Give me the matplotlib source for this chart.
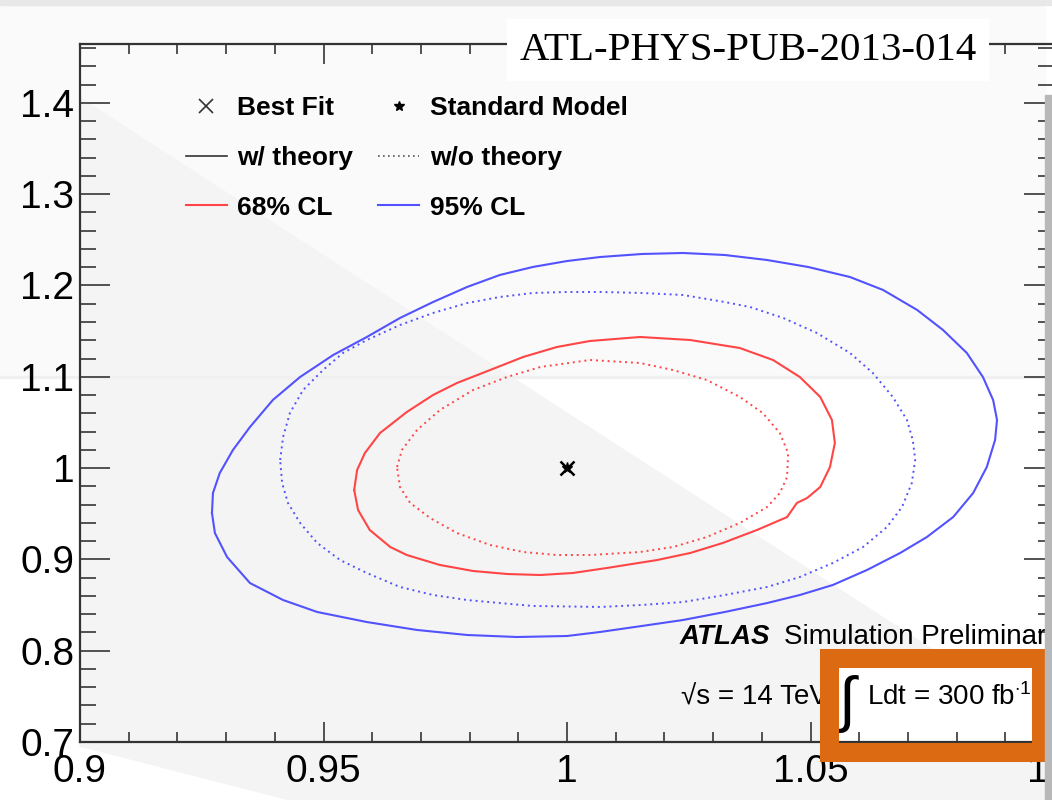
"""Two-parameter likelihood contours (ATLAS HL-LHC projection, 300 fb^-1)."""

import matplotlib
matplotlib.use("Agg")
import matplotlib.pyplot as plt
from matplotlib.lines import Line2D
from matplotlib.patches import Polygon, Rectangle
from matplotlib.ticker import FixedLocator, MultipleLocator
import numpy as np

plt.rcParams.update({
    "font.family": ["Liberation Sans", "DejaVu Sans"],
    "mathtext.fontset": "custom",
    "mathtext.rm": "Liberation Sans",
    "mathtext.it": "Liberation Sans:italic",
    "mathtext.bf": "Liberation Sans:bold",
})

W, H = 1052, 800

# --- contour data (x, y), each a closed loop ---
# 95% CL, with theory uncertainties
c95_theo_x = [0.9271, 0.9273, 0.9287, 0.9314, 0.9349, 0.9396, 0.9452, 0.9520,
              0.9589, 0.9657, 0.9725, 0.9795, 0.9862, 0.9930, 1.0000, 1.0068,
              1.0154, 1.0238, 1.0324, 1.0411, 1.0495, 1.0581, 1.0649, 1.0719,
              1.0772, 1.0821, 1.0854, 1.0875, 1.0883, 1.0879, 1.0862, 1.0834,
              1.0793, 1.0739, 1.0684, 1.0616, 1.0546, 1.0478, 1.0411, 1.0324,
              1.0238, 1.0154, 1.0068, 1.0000, 0.9897, 0.9795, 0.9692, 0.9589,
              0.9487, 0.9417, 0.9349, 0.9302, 0.9277]
c95_theo_y = [0.9508, 0.9727, 0.9946, 1.0198, 1.0450, 1.0746, 1.0998, 1.1239,
              1.1436, 1.1644, 1.1819, 1.1984, 1.2115, 1.2203, 1.2268, 1.2312,
              1.2345, 1.2356, 1.2334, 1.2279, 1.2203, 1.2093, 1.1951, 1.1732,
              1.1513, 1.1261, 1.0998, 1.0746, 1.0527, 1.0308, 1.0012, 0.9727,
              0.9464, 0.9245, 0.9070, 0.8884, 0.8720, 0.8610, 0.8522, 0.8424,
              0.8336, 0.8271, 0.8205, 0.8161, 0.8150, 0.8172, 0.8227, 0.8314,
              0.8424, 0.8555, 0.8741, 0.9026, 0.9289]

# 95% CL, without theory uncertainties
c95_stat_x = [0.9411, 0.9417, 0.9431, 0.9458, 0.9499, 0.9540, 0.9589, 0.9657,
              0.9725, 0.9795, 0.9862, 0.9930, 1.0000, 1.0068, 1.0154, 1.0238,
              1.0324, 1.0376, 1.0444, 1.0513, 1.0581, 1.0628, 1.0669, 1.0698,
              1.0710, 1.0715, 1.0708, 1.0688, 1.0657, 1.0608, 1.0546, 1.0478,
              1.0411, 1.0324, 1.0238, 1.0154, 1.0068, 0.9930, 0.9862, 0.9795,
              0.9725, 0.9657, 0.9589, 0.9534, 0.9487, 0.9452, 0.9427, 0.9415]
c95_stat_y = [1.0089, 1.0341, 1.0603, 1.0855, 1.1074, 1.1261, 1.1403, 1.1567,
              1.1699, 1.1808, 1.1874, 1.1918, 1.1929, 1.1929, 1.1918, 1.1896,
              1.1819, 1.1764, 1.1644, 1.1480, 1.1261, 1.1042, 1.0779, 1.0527,
              1.0308, 1.0089, 0.9837, 0.9574, 0.9355, 0.9136, 0.8961, 0.8807,
              0.8698, 0.8610, 0.8533, 0.8501, 0.8479, 0.8490, 0.8522, 0.8555,
              0.8610, 0.8698, 0.8851, 0.8993, 0.9180, 0.9399, 0.9618, 0.9837]

# 68% CL, with theory uncertainties
c68_theo_x = [0.9563, 0.9569, 0.9585, 0.9616, 0.9671, 0.9725, 0.9774, 0.9842,
              0.9910, 0.9979, 1.0047, 1.0150, 1.0253, 1.0355, 1.0423, 1.0478,
              1.0520, 1.0544, 1.0550, 1.0540, 1.0520, 1.0493, 1.0472, 1.0452,
              1.0390, 1.0320, 1.0253, 1.0185, 1.0082, 1.0012, 0.9945, 0.9877,
              0.9807, 0.9739, 0.9671, 0.9637, 0.9595, 0.9571]
c68_theo_y = [0.9760, 0.9979, 1.0165, 1.0384, 1.0614, 1.0801, 1.0932, 1.1074,
              1.1217, 1.1326, 1.1392, 1.1436, 1.1403, 1.1315, 1.1184, 1.0998,
              1.0779, 1.0527, 1.0275, 1.0012, 0.9793, 0.9672, 0.9618, 0.9464,
              0.9322, 0.9180, 0.9070, 0.8993, 0.8906, 0.8851, 0.8829, 0.8840,
              0.8873, 0.8939, 0.9048, 0.9136, 0.9322, 0.9541]

# 68% CL, without theory uncertainties
c68_stat_x = [0.9651, 0.9661, 0.9692, 0.9739, 0.9807, 0.9877, 0.9945, 1.0047,
              1.0150, 1.0218, 1.0287, 1.0355, 1.0402, 1.0437, 1.0454, 1.0452,
              1.0437, 1.0411, 1.0355, 1.0287, 1.0218, 1.0150, 1.0047, 0.9979,
              0.9910, 0.9842, 0.9774, 0.9719, 0.9678, 0.9657]
c68_stat_y = [1.0012, 1.0198, 1.0417, 1.0636, 1.0855, 1.0998, 1.1107, 1.1184,
              1.1151, 1.1074, 1.0965, 1.0779, 1.0603, 1.0384, 1.0165, 0.9903,
              0.9727, 0.9574, 0.9399, 0.9245, 0.9136, 0.9081, 0.9048, 0.9048,
              0.9081, 0.9158, 0.9289, 0.9453, 0.9618, 0.9793]

best_fit = (1.0, 1.0)
sm_point = (1.0, 1.0)

x_major = [0.9, 0.95, 1.0, 1.05, 1.1]
x_labels = ["0.9", "0.95", "1", "1.05", "1.1"]
y_major = [0.7, 0.8, 0.9, 1.0, 1.1, 1.2, 1.3, 1.4]
y_labels = ["0.7", "0.8", "0.9", "1", "1.1", "1.2", "1.3", "1.4"]

C_RED = "#ff4545"
C_BLUE = "#5252ff"
C_ORANGE = "#dc6a12"


def fpx(px, py):
    """pixel position -> figure fraction"""
    return px / W, 1 - py / H


def closed(xs, ys):
    return np.append(xs, xs[0]), np.append(ys, ys[0])


fig = plt.figure(figsize=(W / 100, H / 100), dpi=100, facecolor="white")

# slide background behind the plot
bg = [
    Rectangle(fpx(0, 377), 1045 / W, (377 - 5) / H, color="#fafafa", zorder=-3),
    Rectangle(fpx(0, 5), 1, 5 / H, color="#e8e8e8", zorder=-3),
    Polygon([fpx(80, 98), fpx(1052, 727), fpx(1052, 800), fpx(290, 800),
             fpx(80, 746)], closed=True, color="#f4f4f4", zorder=-2),
    Rectangle(fpx(0, 378), 1045 / W, 2 / H, color="#f0f0f0", zorder=-2),
    Rectangle(fpx(838, 742), (1032 - 838) / W, (742 - 667) / H,
              color="white", zorder=-1),
]
for p in bg:
    p.set_transform(fig.transFigure)
    fig.add_artist(p)

ax = fig.add_axes([80 / W, 1 - 742 / H, 974 / W, 698 / H])
ax.set_facecolor("none")

dots = (0, (1, 2.0))
ax.plot(*closed(c95_theo_x, c95_theo_y), color=C_BLUE, lw=1.5)
ax.plot(*closed(c95_stat_x, c95_stat_y), color=C_BLUE, lw=1.4, ls=dots)
ax.plot(*closed(c68_theo_x, c68_theo_y), color=C_RED, lw=1.5)
ax.plot(*closed(c68_stat_x, c68_stat_y), color=C_RED, lw=1.4, ls=dots)
ax.plot(*best_fit, marker="x", color="black", ms=10, mew=1.8, ls="none")
ax.plot(*sm_point, marker="*", color="black", ms=8, ls="none")

ax.set_xlim(0.9, 1.1)
ax.set_ylim(0.7, 1.4645)
ax.xaxis.set_major_locator(FixedLocator(x_major))
ax.set_xticklabels(x_labels)
ax.yaxis.set_major_locator(FixedLocator(y_major))
ax.set_yticklabels(y_labels)
ax.xaxis.set_minor_locator(MultipleLocator(0.01))
ax.yaxis.set_minor_locator(MultipleLocator(0.02))
ax.tick_params(axis="both", which="both", direction="in", top=True,
               right=True, colors="#444444", labelcolor="black",
               labelsize=28, width=1.3)
ax.tick_params(axis="x", which="major", length=14.5, pad=9)
ax.tick_params(axis="x", which="minor", length=7.2)
ax.tick_params(axis="y", which="major", length=21.5, pad=4)
ax.tick_params(axis="y", which="minor", length=11.5)
for s in ax.spines.values():
    s.set_color("#333333")
    s.set_linewidth(1.6)

handles = [
    Line2D([], [], marker="x", color="#333333", ms=10, mew=1.2, ls="none"),
    Line2D([], [], color="#333333", lw=1.2),
    Line2D([], [], color=C_RED, lw=1.5),
    Line2D([], [], marker="*", color="black", ms=7, ls="none"),
    Line2D([], [], color="#555555", lw=1.2, ls=(0, (1, 2))),
    Line2D([], [], color=C_BLUE, lw=1.5),
]
labels = ["Best Fit", "w/ theory", "68% CL",
          "Standard Model", "w/o theory", "95% CL"]
fig.legend(handles, labels, ncol=2, frameon=False, loc="upper left",
           bbox_to_anchor=fpx(186, 96), borderpad=0, borderaxespad=0,
           prop={"weight": "bold", "size": 19}, handlelength=1.55,
           handletextpad=0.4, labelspacing=0.98, columnspacing=0.95)

fig.text(*fpx(680, 637), "ATLAS", fontsize=20, fontweight="bold",
         fontstyle="italic", va="center", ha="left")
fig.text(*fpx(784, 637), "Simulation Preliminary", fontsize=20,
         va="center", ha="left")
fig.text(*fpx(681, 697), "\u221as = 14 TeV,", fontsize=20,
         va="center", ha="left")
fig.text(*fpx(836, 704), r"$\int$", fontsize=44, va="center", ha="left",
         zorder=1)
fig.text(*fpx(867, 697), r"Ldt = 300 fb$^{\mathbf{\cdot}1}$", fontsize=20,
         va="center", ha="left", zorder=1)

# highlight frame around the luminosity label
frame = Rectangle(fpx(828.5, 752), (1041 - 828.5) / W, (752 - 657.5) / H,
                  transform=fig.transFigure, facecolor="none",
                  edgecolor=C_ORANGE, lw=13.7, zorder=4)
fig.add_artist(frame)

shadow = Rectangle(fpx(1045, 800), 7 / W, (800 - 95) / H,
                   transform=fig.transFigure, color="#b8b8b8", zorder=5)
fig.add_artist(shadow)

fig.text(*fpx(748, 50), "ATL-PHYS-PUB-2013-014", family="Liberation Serif",
         fontsize=29.5, va="center", ha="center", zorder=6,
         bbox=dict(facecolor="white", edgecolor="none", pad=9))

fig.savefig("out.png", dpi=100, facecolor="white")
